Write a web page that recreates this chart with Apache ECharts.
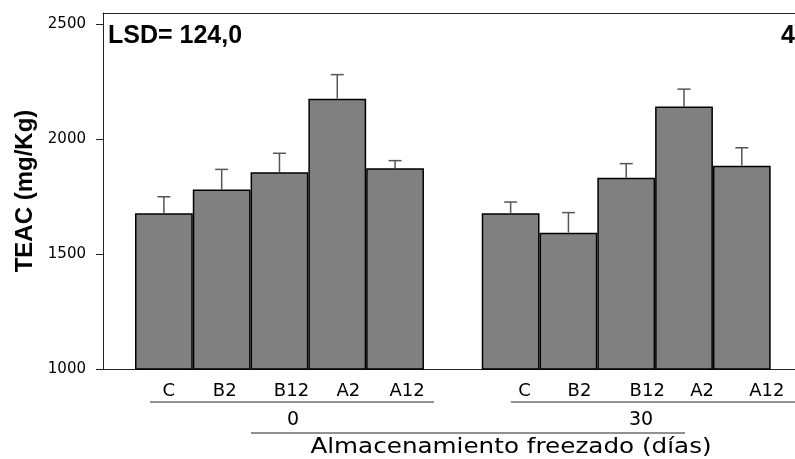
<!DOCTYPE html>
<html>
<head>
<meta charset="utf-8">
<script src="https://cdn.jsdelivr.net/npm/echarts@6/dist/echarts.min.js"></script>
<style>html,body{margin:0;padding:0;background:#fff;}#c{width:795px;height:459px;}</style>
</head>
<body>
<div id="c"></div>
<script>
// ---- data ----
var treatments = ['C', 'B2', 'B12', 'A2', 'A12'];
var storageDays = ['0', '30'];
var teacDay0 = [1677, 1781, 1855, 2175, 1873];
var errDay0 = [72, 87, 83, 105, 33];
var teacDay30 = [1677, 1593, 1832, 2141, 1884];
var errDay30 = [49, 87, 61, 76, 78];
var yTicks = [1000, 1500, 2000, 2500];
var yTitle = 'TEAC (mg/Kg)';
var xTitle = 'Almacenamiento freezado (días)';
var lsdText = 'LSD= 124,0';
var panelText = '4';

// ---- build slots (two groups separated by an empty slot) ----
var slots = treatments.concat(['']).concat(treatments);
var barData = teacDay0.concat(['-']).concat(teacDay30);
var errData = [];
teacDay0.forEach(function (v, i) { errData.push([i, v, v + errDay0[i]]); });
teacDay30.forEach(function (v, i) { errData.push([i + treatments.length + 1, v, v + errDay30[i]]); });

// label horizontal offsets (layout only)
var labelShift = [5, 3, 12, 11, 12, 0, 14, 11, 21, 18, 25];
var rich = {};
labelShift.forEach(function (s, i) { rich['r' + i] = { padding: [0, 0, 0, 2 * s], fontFamily: 'DejaVu Sans', fontSize: 18, color: '#000' }; });

var yMin = 1000, yMax = 2548;
var font = 'DejaVu Sans';

var chart = echarts.init(document.getElementById('c'));
chart.setOption({
  animation: false,
  backgroundColor: '#fff',
  grid: [
    { left: 103, top: 13, width: 760, bottom: 90 },
    { left: 135, top: 13, right: 24.3, bottom: 90 }
  ],
  xAxis: [
    { gridIndex: 0, type: 'value', min: 0, max: 1, position: 'bottom',
      axisLine: { show: true, onZero: false, lineStyle: { color: '#222', width: 1 } },
      axisTick: { show: false }, axisLabel: { show: false }, splitLine: { show: false } },
    { gridIndex: 0, type: 'value', min: 0, max: 1, position: 'top',
      axisLine: { show: true, onZero: false, lineStyle: { color: '#222', width: 1 } },
      axisTick: { show: false }, axisLabel: { show: false }, splitLine: { show: false } },
    { gridIndex: 1, type: 'category', data: slots,
      axisLine: { show: false }, axisTick: { show: false }, splitLine: { show: false },
      axisLabel: { show: true, interval: 0, margin: 13,
        formatter: function (v, i) { return v ? '{r' + i + '|' + v + '}' : ''; },
        rich: rich }
    }
  ],
  yAxis: [
    { gridIndex: 0, type: 'value', min: yMin, max: yMax, interval: 500,
      axisLine: { show: true, lineStyle: { color: '#222', width: 1 } },
      axisTick: { show: true, inside: false, length: 7, lineStyle: { color: '#222' } },
      axisLabel: { margin: 17, fontFamily: font, fontSize: 15, color: '#000', showMaxLabel: false,
        formatter: function (v) { return yTicks.indexOf(v) >= 0 ? String(v) : ''; } },
      splitLine: { show: false },
      name: yTitle, nameLocation: 'middle', nameGap: 64, nameRotate: 90,
      nameTextStyle: { fontFamily: 'Liberation Sans', fontWeight: 'bold', fontSize: 24, color: '#000' }
    },
    { gridIndex: 1, type: 'value', min: yMin, max: yMax, show: false, splitLine: { show: false } }
  ],
  series: [
    { type: 'bar', xAxisIndex: 2, yAxisIndex: 1, data: barData, barCategoryGap: '0%',
      itemStyle: { color: '#808080', borderColor: '#000', borderWidth: 1.5 } },
    { type: 'custom', xAxisIndex: 2, yAxisIndex: 1, data: errData, z: 3,
      renderItem: function (params, api) {
        var x = api.value(0);
        var base = api.coord([x, api.value(1)]);
        var top = api.coord([x, api.value(2)]);
        var hw = 6.5;
        var st = { stroke: '#555', lineWidth: 1.5 };
        return { type: 'group', children: [
          { type: 'line', shape: { x1: base[0], y1: base[1], x2: top[0], y2: top[1] }, style: st },
          { type: 'line', shape: { x1: top[0] - hw, y1: top[1], x2: top[0] + hw, y2: top[1] }, style: st }
        ] };
      }
    }
  ],
  graphic: [
    { type: 'line', shape: { x1: 150, y1: 402, x2: 434, y2: 402 }, style: { stroke: '#222', lineWidth: 1 } },
    { type: 'line', shape: { x1: 511, y1: 402, x2: 800, y2: 402 }, style: { stroke: '#222', lineWidth: 1 } },
    { type: 'text', x: 293, y: 420, style: { text: storageDays[0], fontFamily: font, fontSize: 19, fill: '#000', align: 'center', verticalAlign: 'middle' } },
    { type: 'text', x: 641, y: 420, style: { text: storageDays[1], fontFamily: font, fontSize: 19, fill: '#000', align: 'center', verticalAlign: 'middle' } },
    { type: 'line', shape: { x1: 251, y1: 433, x2: 685, y2: 433 }, style: { stroke: '#222', lineWidth: 1 } },
    { type: 'text', x: 511, y: 447, scaleX: 1.12, style: { text: xTitle, fontFamily: font, fontSize: 22, fill: '#000', align: 'center', verticalAlign: 'middle' } },
    { type: 'text', x: 108, y: 36, style: { text: lsdText, fontFamily: 'Liberation Sans', fontWeight: 'bold', fontSize: 25, fill: '#000', align: 'left', verticalAlign: 'middle' } },
    { type: 'text', x: 781, y: 36, style: { text: panelText, fontFamily: 'Liberation Sans', fontWeight: 'bold', fontSize: 25, fill: '#000', align: 'left', verticalAlign: 'middle' } }
  ]
});
</script>
</body>
</html>
